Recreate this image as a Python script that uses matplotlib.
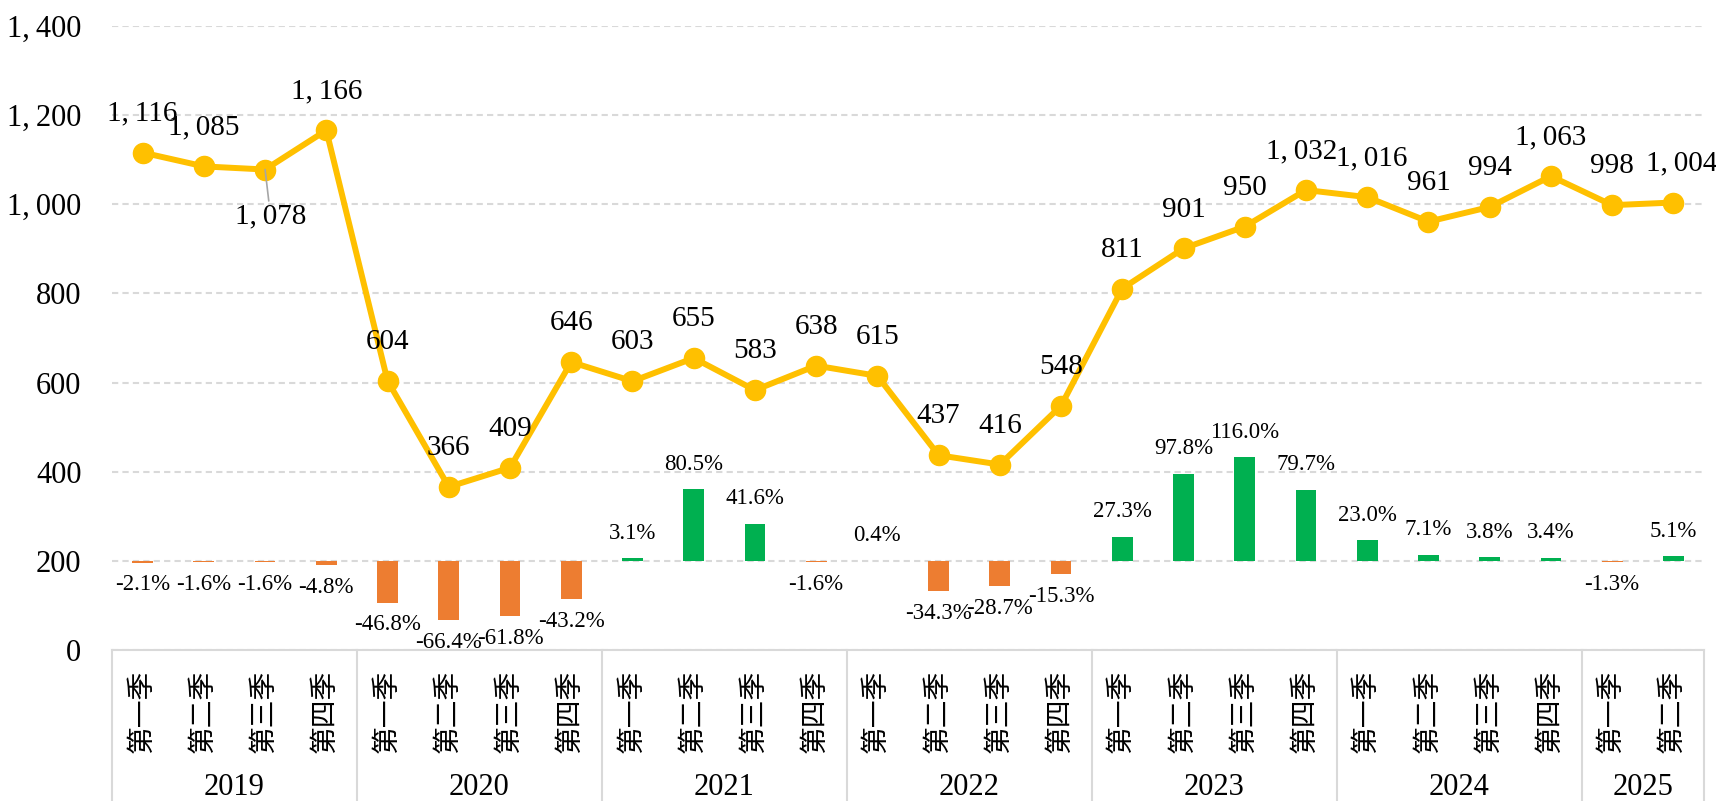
import matplotlib
matplotlib.use('Agg')
import matplotlib.pyplot as plt
import matplotlib.transforms as mtransforms

# quarterly values (line) and year-on-year change in % (bars)
years = ['2019', '2020', '2021', '2022', '2023', '2024', '2025']
quarters_per_year = [4, 4, 4, 4, 4, 4, 2]
quarter_names = ['第一季', '第二季', '第三季', '第四季']

values = [1116, 1085, 1078, 1166,
          604, 366, 409, 646,
          603, 655, 583, 638,
          615, 437, 416, 548,
          811, 901, 950, 1032,
          1016, 961, 994, 1063,
          998, 1004]
growth = [-2.1, -1.6, -1.6, -4.8,
          -46.8, -66.4, -61.8, -43.2,
          3.1, 80.5, 41.6, -1.6,
          0.4, -34.3, -28.7, -15.3,
          27.3, 97.8, 116.0, 79.7,
          23.0, 7.1, 3.8, 3.4,
          -1.3, 5.1]

plt.rcParams['font.family'] = ['Liberation Serif', 'Noto Sans CJK SC', 'DejaVu Sans']


def fmt(v):
    return f'{v:,}'.replace(',', ',\u2009')


quarter_labels = []
for n in quarters_per_year:
    quarter_labels += quarter_names[:n]
x = list(range(len(values)))

fig = plt.figure(figsize=(17.16, 8.01), dpi=100)
ax = fig.add_axes([112 / 1716, 151 / 801, 1592 / 1716, 624 / 801])
ax.set_xlim(-0.5, len(values) - 0.5)
ax.set_ylim(0, 1400)
yt = list(range(0, 1401, 200))
ax.set_yticks(yt)
ax.set_yticklabels([fmt(v) for v in yt], fontsize=22)
ax.tick_params(axis='y', length=0, pad=22)
ax.grid(axis='y', color='#D9D9D9', linestyle=(0, (3, 2)), linewidth=1.5)
ax.set_axisbelow(True)

ax.set_xticks(x)
ax.set_xticklabels(quarter_labels, rotation=90, fontsize=20)
ax.tick_params(axis='x', length=0, pad=14)
for s in ['top', 'right', 'left']:
    ax.spines[s].set_visible(False)
ax.spines['bottom'].set_color('#D9D9D9')
ax.spines['bottom'].set_linewidth(1.5)

# year row and separators under the quarter labels
trans = mtransforms.blended_transform_factory(ax.transData, ax.transAxes)
start = 0
bounds = [-0.5]
for yr, n in zip(years, quarters_per_year):
    ax.text(start + (n - 1) / 2, -0.22, yr, transform=trans,
            ha='center', va='center', fontsize=22)
    start += n
    bounds.append(start - 0.5)
for b in bounds:
    ax.plot([b, b], [0, -0.26], transform=trans, color='#D9D9D9', lw=1.5, clip_on=False)

# growth bars on a hidden secondary scale
ax_bar = ax.twinx()
ax_bar.set_ylim(-100, 600)
ax_bar.axis('off')
bar_colors = ['#00B050' if g >= 0 else '#ED7D31' for g in growth]
ax_bar.bar(x, growth, width=0.34, color=bar_colors)
for i, g in enumerate(growth):
    ax_bar.annotate(f'{g:.1f}%', (i, g), xytext=(0, 18 if g >= 0 else -16),
                    textcoords='offset points', ha='center', va='center', fontsize=16.5)

# value line on top
ax_line = ax.twinx()
ax_line.set_ylim(0, 1400)
ax_line.axis('off')
ax_line.plot(x, values, color='#FFC000', lw=4.3, marker='o', ms=14.5)
nudge = {19: -3, 20: 3, len(values) - 1: 6}
for i, v in enumerate(values):
    if i == 2:
        ax_line.annotate(fmt(v), (i, v), xytext=(4, -34), textcoords='offset points',
                         ha='center', va='center', fontsize=21,
                         arrowprops=dict(arrowstyle='-', color='#A6A6A6', lw=1.2,
                                         shrinkA=0, shrinkB=0))
    else:
        ax_line.annotate(fmt(v), (i, v), xytext=(nudge.get(i, 0), 28),
                         textcoords='offset points', ha='center', va='center', fontsize=21)

fig.savefig('out.png', dpi=100)
